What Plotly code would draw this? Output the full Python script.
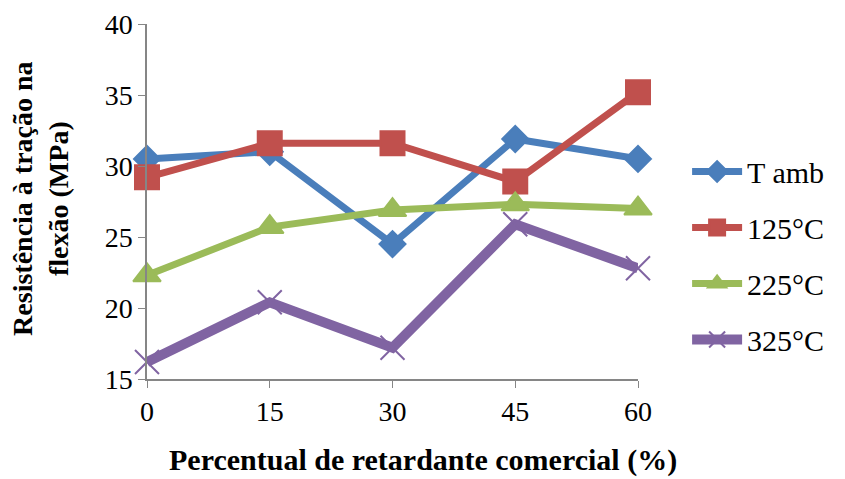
import plotly.graph_objects as go

x_vals = [0, 15, 30, 45, 60]
t_amb = [30.5, 31.0, 24.5, 31.9, 30.5]
c125 = [29.2, 31.6, 31.6, 28.9, 35.2]
c225 = [22.3, 25.7, 26.9, 27.3, 27.0]
c325 = [16.2, 20.4, 17.2, 25.9, 22.8]

series = [
    ("T amb", t_amb, "#4A7EBB", "diamond", 20, 7),
    ("125°C", c125, "#C0504D", "square", 24, 7),
    ("225°C", c225, "#9BBB59", "triangle-up", 24, 7),
    ("325°C", c325, "#8064A2", "x-thin-open", 24, 10),
]

fig = go.Figure()
for i, (name, ys, col, sym, sz, lw) in enumerate(series):
    fig.add_trace(go.Scatter(
        x=x_vals, y=ys, name=name, mode="lines+markers",
        legendgroup="g%d" % i,
        line=dict(color=col, width=lw),
        marker=dict(symbol=sym, size=sz, color=col,
                    line=dict(color=col, width=2)),
        cliponaxis=False,
    ))

font_family = "Liberation Serif, Times New Roman, serif"
fig.update_layout(
    width=845, height=479,
    margin=dict(l=139, r=215, t=16, b=108, autoexpand=False),
    paper_bgcolor="white", plot_bgcolor="white",
    font=dict(family=font_family, size=28, color="black"),
    legend=dict(x=1.1, y=0.348, xanchor="left", yanchor="middle",
                font=dict(size=30), itemwidth=50, tracegroupgap=14,
                bgcolor="rgba(0,0,0,0)"),
    xaxis=dict(range=[0, 60], tickvals=x_vals, ticktext=[str(v) for v in x_vals],
               showgrid=False, zeroline=False, showline=True, linecolor="#868686",
               linewidth=1.5, ticks="outside", ticklen=7, tickcolor="#868686",
               tickfont=dict(size=28), automargin=False,
               ticklabeloverflow="allow"),
    yaxis=dict(range=[15, 40], tickvals=[15, 20, 25, 30, 35, 40], showgrid=False,
               zeroline=False, showline=True, linecolor="#868686", linewidth=1.5,
               ticks="outside", ticklen=7, tickcolor="#868686",
               tickfont=dict(size=28), automargin=False,
               ticklabeloverflow="allow"),
    annotations=[
        dict(text="<b>Percentual de retardante comercial (%)</b>",
             xref="paper", yref="paper", x=0.562, y=-0.228, xanchor="center",
             yanchor="middle", showarrow=False, font=dict(size=30)),
        dict(text="<b>Resistência à tração na<br>flexão (MPa)</b>",
             xref="paper", yref="paper", x=-0.216, y=0.51, xanchor="center",
             yanchor="middle", showarrow=False, textangle=-90,
             font=dict(size=28)),
    ],
)
fig.write_html("out.html")
